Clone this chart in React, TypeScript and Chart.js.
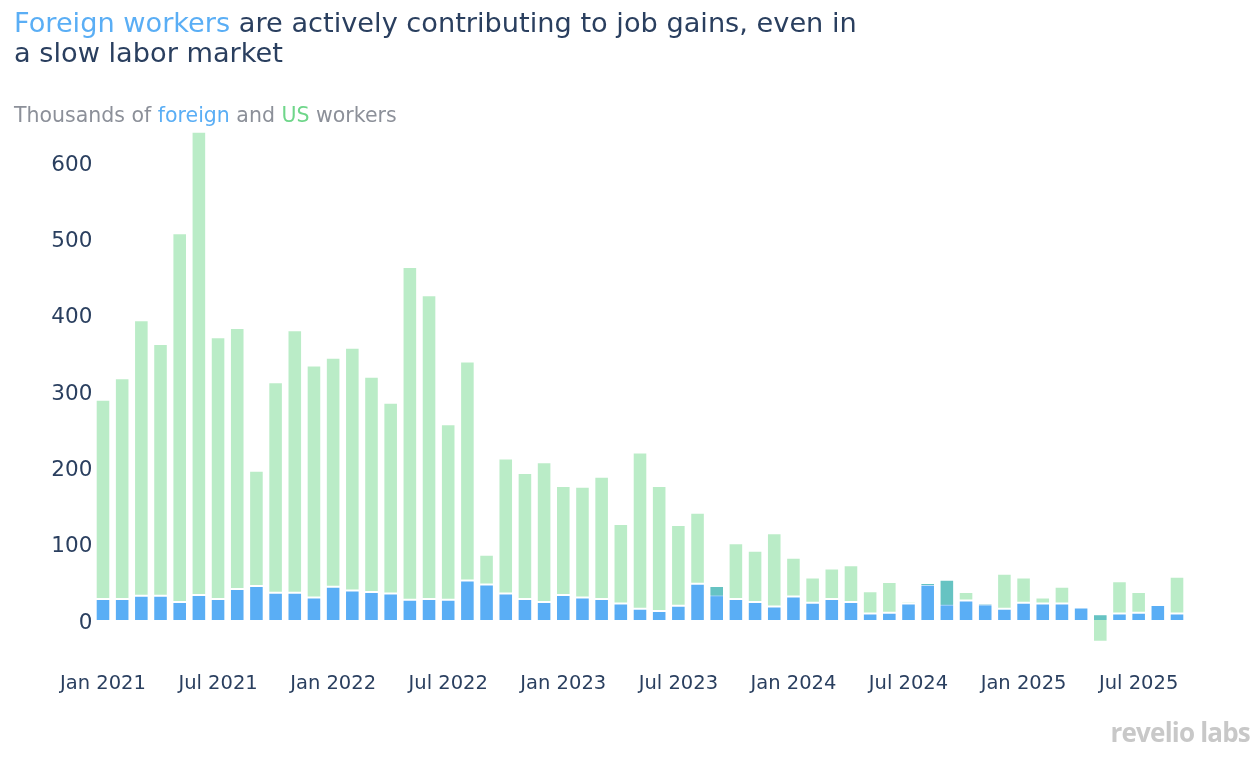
import { useEffect, useRef } from "react";
import { Chart, registerables } from "chart.js";

Chart.register(...registerables);

const categories = [
  "Jan 2021", "Feb 2021", "Mar 2021", "Apr 2021", "May 2021", "Jun 2021", "Jul 2021", "Aug 2021", "Sep 2021", "Oct 2021", "Nov 2021", "Dec 2021",
  "Jan 2022", "Feb 2022", "Mar 2022", "Apr 2022", "May 2022", "Jun 2022", "Jul 2022", "Aug 2022", "Sep 2022", "Oct 2022", "Nov 2022", "Dec 2022",
  "Jan 2023", "Feb 2023", "Mar 2023", "Apr 2023", "May 2023", "Jun 2023", "Jul 2023", "Aug 2023", "Sep 2023", "Oct 2023", "Nov 2023", "Dec 2023",
  "Jan 2024", "Feb 2024", "Mar 2024", "Apr 2024", "May 2024", "Jun 2024", "Jul 2024", "Aug 2024", "Sep 2024", "Oct 2024", "Nov 2024", "Dec 2024",
  "Jan 2025", "Feb 2025", "Mar 2025", "Apr 2025", "May 2025", "Jun 2025", "Jul 2025", "Aug 2025", "Sep 2025",
];

// Thousands of foreign workers (job gains)
const foreignWorkers = [
  29, 29, 33, 33, 25, 34, 29, 42, 46, 37, 37, 31,
  45, 40, 38, 36, 28, 29, 28, 53, 48, 36, 29, 25,
  34, 31, 29, 23, 16, 13, 20, 49, 46, 29, 25, 19,
  32, 24, 29, 25, 10, 11, 23, 50, 54, 27, 23, 16,
  24, 23, 23, 18, 9, 10, 11, 21, 10,
];

// Thousands of US workers (job gains), stacked on top of foreign
const usWorkers = [
  261, 289, 361, 330, 483, 607, 343, 342, 151, 276, 344, 304,
  300, 318, 282, 250, 436, 398, 230, 287, 39, 177, 165, 183,
  143, 145, 160, 104, 205, 164, 106, 93, -14, 73, 67, 96,
  51, 33, 40, 48, 29, 40, 3, -4, -34, 11, -3, 46,
  33, 8, 22, -2, -36, 42, 27, 2, 48,
];

const yTicks = [0, 100, 200, 300, 400, 500, 600];
const xTickLabels = [
  "Jan 2021", "Jul 2021", "Jan 2022", "Jul 2022", "Jan 2023",
  "Jul 2023", "Jan 2024", "Jul 2024", "Jan 2025", "Jul 2025",
];

const NAVY = "#2a3f5f";
const BLUE = "#5aaef5";
const GREEN = "rgba(115,216,140,0.49)";
const FONT = "'DejaVu Sans', Verdana, sans-serif";

export default function App() {
  const ref = useRef<HTMLCanvasElement | null>(null);

  useEffect(() => {
    if (!ref.current) return;
    const usFloating = usWorkers.map((v, i) => [foreignWorkers[i], foreignWorkers[i] + v]);
    const chart = new Chart(ref.current, {
      type: "bar",
      data: {
        labels: categories,
        datasets: [
          {
            label: "US",
            data: usFloating as any,
            backgroundColor: GREEN,
            borderColor: "rgba(255,255,255,0.6)",
            borderWidth: 1,
            borderSkipped: false,
            order: 0,
          },
          {
            label: "Foreign",
            data: foreignWorkers,
            backgroundColor: BLUE,
            borderColor: "rgba(255,255,255,0.6)",
            borderWidth: 1,
            borderSkipped: false,
            order: 1,
          },
        ],
      },
      options: {
        animation: false,
        responsive: false,
        maintainAspectRatio: false,
        layout: { padding: { left: 0, right: 71.4, top: 125, bottom: 0 } },
        plugins: { legend: { display: false }, tooltip: { enabled: false } },
        datasets: { bar: { categoryPercentage: 1, barPercentage: 0.76, grouped: false } as any },
        scales: {
          x: {
            grid: { display: false, drawTicks: false },
            border: { display: false },
            ticks: {
              autoSkip: false,
              maxRotation: 0,
              minRotation: 0,
              padding: 13,
              color: NAVY,
              font: { family: FONT, size: 19.5 },
              callback: (_v: any, i: number) => (xTickLabels.includes(categories[i]) ? categories[i] : ""),
            },
            afterFit: (a: any) => {
              a.height = 99.8;
            },
          },
          y: {
            min: -50,
            max: 650,
            grid: { display: false, drawTicks: false },
            border: { display: false },
            ticks: {
              padding: 1,
              labelOffset: 2,
              color: NAVY,
              font: { family: FONT, size: 21.5 },
            },
            afterBuildTicks: (a: any) => {
              a.ticks = yTicks.map((v) => ({ value: v }));
            },
            afterFit: (a: any) => {
              a.width = 93.4;
            },
          },
        },
      },
    });
    return () => chart.destroy();
  }, []);

  return (
    <div style={{ position: "fixed", left: 0, top: 0, width: 1258, height: 759, background: "#fff", overflow: "hidden" }}>
      <canvas ref={ref} width={1258} height={759} style={{ position: "absolute", left: 0, top: 0, width: 1258, height: 759 }} />
      <div
        style={{
          position: "absolute",
          left: 14,
          top: 8,
          fontFamily: FONT,
          fontSize: 27.2,
          lineHeight: "30px",
          color: NAVY,
          whiteSpace: "nowrap",
        }}
      >
        <span style={{ color: BLUE }}>Foreign workers</span> are actively contributing to job gains, even in
        <br />a slow labor market
      </div>
      <div
        style={{
          position: "absolute",
          left: 14,
          top: 103,
          fontFamily: FONT,
          fontSize: 20.5,
          lineHeight: "24px",
          color: "#8c9099",
          whiteSpace: "nowrap",
        }}
      >
        Thousands of <span style={{ color: BLUE }}>foreign</span> and <span style={{ color: "#6fd68a" }}>US</span> workers
      </div>
      <div
        style={{
          position: "absolute",
          right: 8,
          top: 716,
          fontFamily: "'Open Sans', sans-serif",
          fontWeight: 700,
          fontSize: 26,
          letterSpacing: "-0.8px",
          lineHeight: "32px",
          color: "#c8c8c8",
          whiteSpace: "nowrap",
        }}
      >
        revelio labs
      </div>
    </div>
  );
}
